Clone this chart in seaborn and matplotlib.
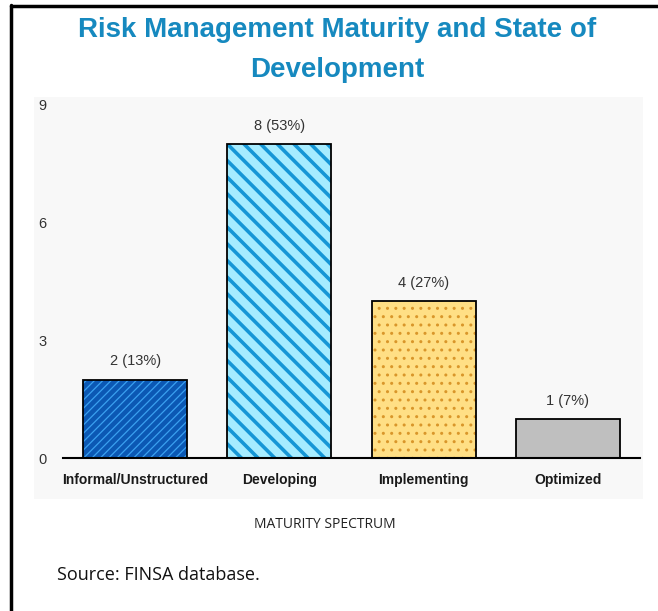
import matplotlib
matplotlib.use("Agg")
import matplotlib.pyplot as plt
import matplotlib.patches as mpatches
import seaborn as sns
import pandas as pd

# Données du graphique
stages = ["Informal/Unstructured", "Developing", "Implementing", "Optimized"]
counts = [2, 8, 4, 1]
percents = [13, 53, 27, 7]
y_ticks = [0, 3, 6, 9]

# Style des barres
face_colors = ["#0b58b4", "#a6ecff", "#ffdf85", "#bfbfbf"]
hatch_colors = ["#3aa0f0", "#1596d6", "#d9962a", "#bfbfbf"]
hatches = ["////", "\\\\", "..", ""]
hatch_widths = [0.9, 2.6, 1.0, 0.0]

sns.set_style("white")
plt.rcParams["font.family"] = ["Liberation Sans", "DejaVu Sans"]

df = pd.DataFrame({"stage": stages, "count": counts})

fig = plt.figure(figsize=(6.58, 6.11), dpi=100)

# Cadre noir (gauche + haut) et panneau gris clair
fig.add_artist(plt.Line2D([11 / 658, 11 / 658], [0, 1 - 5 / 611], color="black", lw=2.5,
                          transform=fig.transFigure))
fig.add_artist(plt.Line2D([11 / 658, 1], [1 - 6 / 611, 1 - 6 / 611], color="black", lw=2.5,
                          transform=fig.transFigure))
fig.add_artist(mpatches.Rectangle((34 / 658, 1 - 499 / 611), (643 - 34) / 658, (499 - 97) / 611,
                                  transform=fig.transFigure, facecolor="#f8f8f8",
                                  edgecolor="none", zorder=0))

ax = fig.add_axes([63 / 658, 1 - 458 / 611, 577 / 658, 353 / 611])
ax.set_facecolor("none")

# Couche 1 : fond + hachures
sns.barplot(data=df, x="stage", y="count", hue="stage", palette=face_colors,
            width=0.72, legend=False, ax=ax, linewidth=0, saturation=1)
for patch, h, hc, hw in zip(ax.patches, hatches, hatch_colors, hatch_widths):
    patch.set_hatch(h)
    patch.set_edgecolor(hc)
    patch.set_linewidth(0)
    if hasattr(patch, "set_hatch_linewidth"):
        patch.set_hatch_linewidth(hw)

# Couche 2 : contour noir
sns.barplot(data=df, x="stage", y="count", width=0.72, fill=False, color="black",
            edgecolor="black", linewidth=1.3, ax=ax)

for i, (c, p) in enumerate(zip(counts, percents)):
    ax.annotate(f"{c} ({p}%)", (i, c), xytext=(0, 8), textcoords="offset points",
                ha="center", va="bottom", fontsize=10.5, color="#333333")

ax.set_xlim(-0.5, 3.5)
ax.set_ylim(0, 9)
ax.set_yticks(y_ticks)
ax.set_yticklabels([str(t) for t in y_ticks], fontsize=10.5, color="#333333")
ax.tick_params(axis="y", length=0, pad=12)
ax.tick_params(axis="x", length=0, pad=11)
for lab in ax.get_xticklabels():
    lab.set_fontweight("bold")
    lab.set_fontsize(10)
    lab.set_color("#1a1a1a")
ax.set_xlabel("")
ax.set_ylabel("")
for s in ["left", "right", "top"]:
    ax.spines[s].set_visible(False)
ax.spines["bottom"].set_color("black")
ax.spines["bottom"].set_linewidth(1.5)
ax.spines["bottom"].set_bounds(-0.5, 3.5)

fig.text(337 / 658, 1 - 30 / 611, "Risk Management Maturity and State of",
         ha="center", va="center", fontsize=20, fontweight="bold", color="#1689bf")
fig.text(337 / 658, 1 - 70 / 611, "Development",
         ha="center", va="center", fontsize=20, fontweight="bold", color="#1689bf")
fig.text(325 / 658, 1 - 524 / 611, "MATURITY SPECTRUM", ha="center", va="center",
         fontsize=10, color="#222222", family=["Open Sans", "DejaVu Sans"])
fig.text(57 / 658, 1 - 575 / 611, "Source: FINSA database.", ha="left", va="center",
         fontsize=13, color="#111111", family=["Open Sans", "DejaVu Sans"])

fig.savefig("out.png", dpi=100)
